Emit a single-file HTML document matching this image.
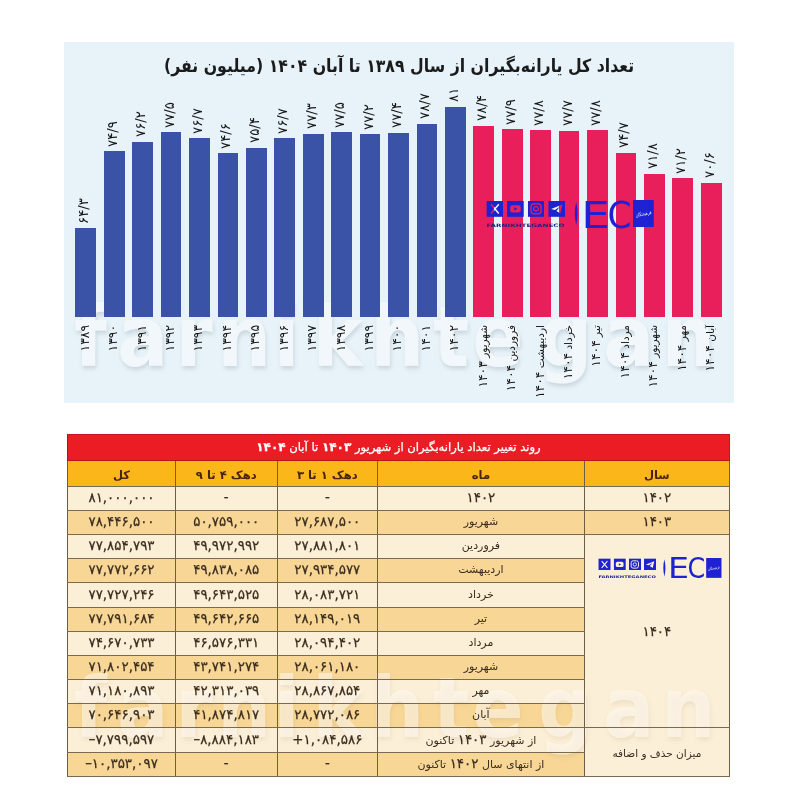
<!DOCTYPE html>
<html lang="fa"><head><meta charset="utf-8"><title>تعداد کل یارانه‌بگیران</title>
<style>
:root{--blue:#3A53A6;--red:#E91F5B;}
*{box-sizing:border-box;margin:0;padding:0}
html,body{width:800px;height:800px;background:#fff;overflow:hidden}
body{position:relative;font-family:"DejaVu Sans","Liberation Sans",sans-serif;color:#222}
.panel{position:absolute;left:64px;top:42px;width:670px;height:361px;background:#E7F3F9}
.title{position:absolute;left:64px;top:53px;width:670px;text-align:center;direction:rtl;font-weight:bold;font-size:15.75px;line-height:22px;color:#1b1b1b;white-space:nowrap;transform:translateY(2px) scaleY(1.15)}
.xl b{font-size:12.3px;font-weight:normal}
.bar{position:absolute;width:20.7px}
.vl{position:absolute;width:60px;height:14px;line-height:14px;font-family:"DejaVu Sans",sans-serif;font-size:13.3px;color:#161616;white-space:nowrap;transform-origin:0 0;transform:rotate(-90deg);text-align:left;direction:ltr}
.xl{position:absolute;width:90px;height:14px;line-height:14px;font-family:"DejaVu Sans",sans-serif;font-size:10.5px;color:#161616;white-space:nowrap;transform-origin:0 0;transform:rotate(-90deg);text-align:right;direction:rtl}
.cell{position:absolute;display:flex;align-items:center;justify-content:center;padding-bottom:2px;white-space:nowrap;direction:rtl;font-size:11px;color:#3a2c1e}
.cell b{font-weight:normal;font-size:13.4px;-webkit-text-stroke:0.25px #3a2c1e}
.num{direction:ltr;font-size:13.4px;-webkit-text-stroke:0.25px #3a2c1e}
.red i{font-style:normal;font-weight:bold;font-size:12px;letter-spacing:0.6px}
.red{background:#EC1C24;color:#fff;font-size:11.6px;-webkit-text-stroke:0.25px #fff;box-shadow:inset 0 1px 0 #c0161c, inset 1px 0 0 #a8161a, inset -1px 0 0 #c0161c, inset 0 -1px 0 #b8161c}
.hdr{background:#FBB61A;font-weight:bold;color:#4a2412;font-size:11.6px;padding-bottom:0;padding-top:1.5px}
.lt{background:#FCEFD7}
.tx.tx{background:transparent}
.dk{background:#F8D796}
.vline{position:absolute;width:1px;background:#6e5e45}
.hline{position:absolute;height:1px;background:#7a6a50}
.logo{position:absolute;overflow:visible}
.wm{position:absolute;pointer-events:none}
</style></head>
<body>
<div class="panel"></div>
<svg class="wm" style="left:0;top:0" width="800" height="420" viewBox="0 0 800 420">
<defs><filter id="wsh" x="-5%" y="-20%" width="110%" height="140%"><feGaussianBlur in="SourceAlpha" stdDeviation="2.2"/><feOffset dx="1.5" dy="2.5" result="b"/><feFlood flood-color="#8d98a3" flood-opacity="0.32"/><feComposite in2="b" operator="in"/><feMerge><feMergeNode/><feMergeNode in="SourceGraphic"/></feMerge></filter></defs>
<text x="82.3 130.2 194.9 241.5 303.8 347.1 411.5 481.2 524.6 598.0 670.2 734.9" y="366" transform="scale(0.9,1)" font-family="DejaVu Sans" font-weight="bold" font-size="84" fill="#f1f7fa" filter="url(#wsh)">farnikhtegan</text>
</svg>
<div class="title">تعداد کل یارانه‌بگیران از سال ۱۳۸۹ تا آبان ۱۴۰۴ (میلیون نفر)</div>
<div class="bar" style="left:75.40px;top:228.48px;height:88.52px;background:var(--blue)"></div>
<div class="vl" style="left:77.25px;top:223.98px">۶۴/۳</div>
<div class="xl" style="left:77.75px;top:415.00px"><b>۱۳۸۹</b></div>
<div class="bar" style="left:103.83px;top:151.20px;height:165.80px;background:var(--blue)"></div>
<div class="vl" style="left:105.68px;top:146.70px">۷۴/۹</div>
<div class="xl" style="left:106.18px;top:415.00px"><b>۱۳۹۰</b></div>
<div class="bar" style="left:132.26px;top:141.73px;height:175.27px;background:var(--blue)"></div>
<div class="vl" style="left:134.11px;top:137.23px">۷۶/۲</div>
<div class="xl" style="left:134.61px;top:415.00px"><b>۱۳۹۱</b></div>
<div class="bar" style="left:160.69px;top:132.25px;height:184.75px;background:var(--blue)"></div>
<div class="vl" style="left:162.54px;top:127.75px">۷۷/۵</div>
<div class="xl" style="left:163.04px;top:415.00px"><b>۱۳۹۲</b></div>
<div class="bar" style="left:189.12px;top:138.08px;height:178.92px;background:var(--blue)"></div>
<div class="vl" style="left:190.97px;top:133.58px">۷۶/۷</div>
<div class="xl" style="left:191.47px;top:415.00px"><b>۱۳۹۳</b></div>
<div class="bar" style="left:217.55px;top:153.39px;height:163.61px;background:var(--blue)"></div>
<div class="vl" style="left:219.40px;top:148.89px">۷۴/۶</div>
<div class="xl" style="left:219.90px;top:415.00px"><b>۱۳۹۴</b></div>
<div class="bar" style="left:245.98px;top:147.56px;height:169.44px;background:var(--blue)"></div>
<div class="vl" style="left:247.83px;top:143.06px">۷۵/۴</div>
<div class="xl" style="left:248.33px;top:415.00px"><b>۱۳۹۵</b></div>
<div class="bar" style="left:274.41px;top:138.08px;height:178.92px;background:var(--blue)"></div>
<div class="vl" style="left:276.26px;top:133.58px">۷۶/۷</div>
<div class="xl" style="left:276.76px;top:415.00px"><b>۱۳۹۶</b></div>
<div class="bar" style="left:302.84px;top:133.71px;height:183.29px;background:var(--blue)"></div>
<div class="vl" style="left:304.69px;top:129.21px">۷۷/۳</div>
<div class="xl" style="left:305.19px;top:415.00px"><b>۱۳۹۷</b></div>
<div class="bar" style="left:331.27px;top:132.25px;height:184.75px;background:var(--blue)"></div>
<div class="vl" style="left:333.12px;top:127.75px">۷۷/۵</div>
<div class="xl" style="left:333.62px;top:415.00px"><b>۱۳۹۸</b></div>
<div class="bar" style="left:359.70px;top:134.44px;height:182.56px;background:var(--blue)"></div>
<div class="vl" style="left:361.55px;top:129.94px">۷۷/۲</div>
<div class="xl" style="left:362.05px;top:415.00px"><b>۱۳۹۹</b></div>
<div class="bar" style="left:388.13px;top:132.98px;height:184.02px;background:var(--blue)"></div>
<div class="vl" style="left:389.98px;top:128.48px">۷۷/۴</div>
<div class="xl" style="left:390.48px;top:415.00px"><b>۱۴۰۰</b></div>
<div class="bar" style="left:416.56px;top:123.50px;height:193.50px;background:var(--blue)"></div>
<div class="vl" style="left:418.41px;top:119.00px">۷۸/۷</div>
<div class="xl" style="left:418.91px;top:415.00px"><b>۱۴۰۱</b></div>
<div class="bar" style="left:444.99px;top:106.73px;height:210.26px;background:var(--blue)"></div>
<div class="vl" style="left:446.84px;top:102.23px">۸۱</div>
<div class="xl" style="left:447.34px;top:415.00px"><b>۱۴۰۲</b></div>
<div class="bar" style="left:473.42px;top:125.69px;height:191.31px;background:var(--red)"></div>
<div class="vl" style="left:475.27px;top:121.19px">۷۸/۴</div>
<div class="xl" style="left:475.77px;top:415.00px">شهریور <b>۱۴۰۳</b></div>
<div class="bar" style="left:501.85px;top:129.33px;height:187.67px;background:var(--red)"></div>
<div class="vl" style="left:503.70px;top:124.83px">۷۷/۹</div>
<div class="xl" style="left:504.20px;top:415.00px">فروردین <b>۱۴۰۴</b></div>
<div class="bar" style="left:530.28px;top:130.06px;height:186.94px;background:var(--red)"></div>
<div class="vl" style="left:532.13px;top:125.56px">۷۷/۸</div>
<div class="xl" style="left:532.63px;top:415.00px">اردیبهشت <b>۱۴۰۴</b></div>
<div class="bar" style="left:558.71px;top:130.79px;height:186.21px;background:var(--red)"></div>
<div class="vl" style="left:560.56px;top:126.29px">۷۷/۷</div>
<div class="xl" style="left:561.06px;top:415.00px">خرداد <b>۱۴۰۴</b></div>
<div class="bar" style="left:587.14px;top:130.06px;height:186.94px;background:var(--red)"></div>
<div class="vl" style="left:588.99px;top:125.56px">۷۷/۸</div>
<div class="xl" style="left:589.49px;top:415.00px">تیر <b>۱۴۰۴</b></div>
<div class="bar" style="left:615.57px;top:152.66px;height:164.34px;background:var(--red)"></div>
<div class="vl" style="left:617.42px;top:148.16px">۷۴/۷</div>
<div class="xl" style="left:617.92px;top:415.00px">مرداد <b>۱۴۰۴</b></div>
<div class="bar" style="left:644.00px;top:173.80px;height:143.20px;background:var(--red)"></div>
<div class="vl" style="left:645.85px;top:169.30px">۷۱/۸</div>
<div class="xl" style="left:646.35px;top:415.00px">شهریور <b>۱۴۰۴</b></div>
<div class="bar" style="left:672.43px;top:178.18px;height:138.82px;background:var(--red)"></div>
<div class="vl" style="left:674.28px;top:173.68px">۷۱/۲</div>
<div class="xl" style="left:674.78px;top:415.00px">مهر <b>۱۴۰۴</b></div>
<div class="bar" style="left:700.86px;top:182.55px;height:134.45px;background:var(--red)"></div>
<div class="vl" style="left:702.71px;top:178.05px">۷۰/۶</div>
<div class="xl" style="left:703.21px;top:415.00px">آبان <b>۱۴۰۴</b></div>
<svg class="logo" style="left:486px;top:200px" width="169.00" height="28.50" viewBox="0 0 169 28.5">
<mask id="am0" maskUnits="userSpaceOnUse" x="0.4" y="0.6" width="16.85" height="16.3"><rect x="0.4" y="0.6" width="16.85" height="16.3" fill="#fff"/><g transform="translate(0.4,0.6)"><path d="M4.6 3.6 L12.4 12.8 M12.4 3.6 L4.6 12.8" stroke="#000" stroke-width="1.5" fill="none"/></g></mask><rect x="0.4" y="0.6" width="16.85" height="16.3" fill="#1E22D2" mask="url(#am0)"/><mask id="am1" maskUnits="userSpaceOnUse" x="21.0" y="0.6" width="16.85" height="16.3"><rect x="21.0" y="0.6" width="16.85" height="16.3" fill="#fff"/><g transform="translate(21.0,0.6)"><rect x="3.2" y="4.6" width="10.5" height="7.2" rx="2.2" fill="#000"/><path d="M7.3 6.4 L10.3 8.2 L7.3 10 Z" fill="#fff"/></g></mask><rect x="21.0" y="0.6" width="16.85" height="16.3" fill="#1E22D2" mask="url(#am1)"/><mask id="am2" maskUnits="userSpaceOnUse" x="41.6" y="0.6" width="16.85" height="16.3"><rect x="41.6" y="0.6" width="16.85" height="16.3" fill="#fff"/><g transform="translate(41.6,0.6)"><rect x="3.4" y="3.2" width="10" height="10" rx="2.8" fill="none" stroke="#000" stroke-width="1.3"/><circle cx="8.4" cy="8.2" r="2.3" fill="none" stroke="#000" stroke-width="1.2"/></g></mask><rect x="41.6" y="0.6" width="16.85" height="16.3" fill="#1E22D2" mask="url(#am2)"/><mask id="am3" maskUnits="userSpaceOnUse" x="62.25" y="0.6" width="16.85" height="16.3"><rect x="62.25" y="0.6" width="16.85" height="16.3" fill="#fff"/><g transform="translate(62.25,0.6)"><path d="M2.8 8.4 L14.2 3.8 L12 13 L8.2 10.4 L11.6 6.2 L6.6 9.4 Z" fill="#000"/></g></mask><rect x="62.25" y="0.6" width="16.85" height="16.3" fill="#1E22D2" mask="url(#am3)"/>
<text x="0.6" y="27.3" font-family="DejaVu Sans" font-weight="bold" font-size="4.6" fill="#1a1f80" textLength="78" lengthAdjust="spacingAndGlyphs">FARNIKHTEGANECO</text>
<path d="M90.2 1.8 Q93 13.5 90.2 25.5 Q87.4 13.5 90.2 1.8Z" fill="#1E22D2"/>
<text y="27.6" font-family="DejaVu Sans" font-size="37.9" fill="#1E22D2"><tspan x="95.3" textLength="28.6" lengthAdjust="spacingAndGlyphs">E</tspan><tspan x="121.5" textLength="24.1" lengthAdjust="spacingAndGlyphs">C</tspan></text>
<rect x="147" y="0" width="20.8" height="27" fill="#1E22D2"/>
<text x="149.5" y="15.5" font-family="DejaVu Sans" font-size="5" fill="#fff" opacity="0.9" textLength="16" lengthAdjust="spacingAndGlyphs" transform="rotate(-12 157.4 14)">فرهیختگان</text>
</svg>
<div class="cell red" style="left:67.0px;top:434.2px;width:663.0px;height:27.19999999999999px"></div>
<div class="cell hdr" style="left:67.5px;top:461.4px;width:108.0px;height:24.900000000000034px"></div>
<div class="cell hdr" style="left:175.5px;top:461.4px;width:101.5px;height:24.900000000000034px"></div>
<div class="cell hdr" style="left:277px;top:461.4px;width:100.60000000000002px;height:24.900000000000034px"></div>
<div class="cell hdr" style="left:377.6px;top:461.4px;width:206.60000000000002px;height:24.900000000000034px"></div>
<div class="cell hdr" style="left:584.2px;top:461.4px;width:145.29999999999995px;height:24.900000000000034px"></div>
<div class="cell lt num" style="left:67.5px;top:486.30px;width:108.0px;height:24.17px"></div>
<div class="cell lt num" style="left:175.5px;top:486.30px;width:101.5px;height:24.17px"></div>
<div class="cell lt num" style="left:277px;top:486.30px;width:100.60000000000002px;height:24.17px"></div>
<div class="cell lt" style="left:377.6px;top:486.30px;width:206.60000000000002px;height:24.17px"></div>
<div class="cell dk num" style="left:67.5px;top:510.47px;width:108.0px;height:24.17px"></div>
<div class="cell dk num" style="left:175.5px;top:510.47px;width:101.5px;height:24.17px"></div>
<div class="cell dk num" style="left:277px;top:510.47px;width:100.60000000000002px;height:24.17px"></div>
<div class="cell dk" style="left:377.6px;top:510.47px;width:206.60000000000002px;height:24.17px"></div>
<div class="cell lt num" style="left:67.5px;top:534.63px;width:108.0px;height:24.17px"></div>
<div class="cell lt num" style="left:175.5px;top:534.63px;width:101.5px;height:24.17px"></div>
<div class="cell lt num" style="left:277px;top:534.63px;width:100.60000000000002px;height:24.17px"></div>
<div class="cell lt" style="left:377.6px;top:534.63px;width:206.60000000000002px;height:24.17px"></div>
<div class="cell dk num" style="left:67.5px;top:558.80px;width:108.0px;height:24.17px"></div>
<div class="cell dk num" style="left:175.5px;top:558.80px;width:101.5px;height:24.17px"></div>
<div class="cell dk num" style="left:277px;top:558.80px;width:100.60000000000002px;height:24.17px"></div>
<div class="cell dk" style="left:377.6px;top:558.80px;width:206.60000000000002px;height:24.17px"></div>
<div class="cell lt num" style="left:67.5px;top:582.97px;width:108.0px;height:24.17px"></div>
<div class="cell lt num" style="left:175.5px;top:582.97px;width:101.5px;height:24.17px"></div>
<div class="cell lt num" style="left:277px;top:582.97px;width:100.60000000000002px;height:24.17px"></div>
<div class="cell lt" style="left:377.6px;top:582.97px;width:206.60000000000002px;height:24.17px"></div>
<div class="cell dk num" style="left:67.5px;top:607.13px;width:108.0px;height:24.17px"></div>
<div class="cell dk num" style="left:175.5px;top:607.13px;width:101.5px;height:24.17px"></div>
<div class="cell dk num" style="left:277px;top:607.13px;width:100.60000000000002px;height:24.17px"></div>
<div class="cell dk" style="left:377.6px;top:607.13px;width:206.60000000000002px;height:24.17px"></div>
<div class="cell lt num" style="left:67.5px;top:631.30px;width:108.0px;height:24.17px"></div>
<div class="cell lt num" style="left:175.5px;top:631.30px;width:101.5px;height:24.17px"></div>
<div class="cell lt num" style="left:277px;top:631.30px;width:100.60000000000002px;height:24.17px"></div>
<div class="cell lt" style="left:377.6px;top:631.30px;width:206.60000000000002px;height:24.17px"></div>
<div class="cell dk num" style="left:67.5px;top:655.47px;width:108.0px;height:24.17px"></div>
<div class="cell dk num" style="left:175.5px;top:655.47px;width:101.5px;height:24.17px"></div>
<div class="cell dk num" style="left:277px;top:655.47px;width:100.60000000000002px;height:24.17px"></div>
<div class="cell dk" style="left:377.6px;top:655.47px;width:206.60000000000002px;height:24.17px"></div>
<div class="cell lt num" style="left:67.5px;top:679.63px;width:108.0px;height:24.17px"></div>
<div class="cell lt num" style="left:175.5px;top:679.63px;width:101.5px;height:24.17px"></div>
<div class="cell lt num" style="left:277px;top:679.63px;width:100.60000000000002px;height:24.17px"></div>
<div class="cell lt" style="left:377.6px;top:679.63px;width:206.60000000000002px;height:24.17px"></div>
<div class="cell dk num" style="left:67.5px;top:703.80px;width:108.0px;height:24.17px"></div>
<div class="cell dk num" style="left:175.5px;top:703.80px;width:101.5px;height:24.17px"></div>
<div class="cell dk num" style="left:277px;top:703.80px;width:100.60000000000002px;height:24.17px"></div>
<div class="cell dk" style="left:377.6px;top:703.80px;width:206.60000000000002px;height:24.17px"></div>
<div class="cell lt num" style="left:67.5px;top:727.97px;width:108.0px;height:24.17px"></div>
<div class="cell lt num" style="left:175.5px;top:727.97px;width:101.5px;height:24.17px"></div>
<div class="cell lt num" style="left:277px;top:727.97px;width:100.60000000000002px;height:24.17px"></div>
<div class="cell lt" style="left:377.6px;top:727.97px;width:206.60000000000002px;height:24.17px"></div>
<div class="cell dk num" style="left:67.5px;top:752.13px;width:108.0px;height:24.17px"></div>
<div class="cell dk num" style="left:175.5px;top:752.13px;width:101.5px;height:24.17px"></div>
<div class="cell dk num" style="left:277px;top:752.13px;width:100.60000000000002px;height:24.17px"></div>
<div class="cell dk" style="left:377.6px;top:752.13px;width:206.60000000000002px;height:24.17px"></div>
<div class="cell lt" style="left:584.2px;top:486.30px;width:145.29999999999995px;height:24.17px"></div>
<div class="cell dk" style="left:584.2px;top:510.47px;width:145.29999999999995px;height:24.17px"></div>
<div class="cell lt" style="left:584.2px;top:534.63px;width:145.29999999999995px;height:193.33px"></div>
<div class="cell lt" style="left:584.2px;top:727.97px;width:145.29999999999995px;height:48.33px"></div>
<svg class="wm" style="left:0;top:420px" width="800" height="380" viewBox="0 420 800 380">
<defs><filter id="wsh2" x="-5%" y="-20%" width="110%" height="140%"><feGaussianBlur in="SourceAlpha" stdDeviation="2.2"/><feOffset dx="1.5" dy="2.5" result="b"/><feFlood flood-color="#8a7550" flood-opacity="0.22"/><feComposite in2="b" operator="in"/><feMerge><feMergeNode/><feMergeNode in="SourceGraphic"/></feMerge></filter></defs>
<text x="82.3 130.2 194.9 241.5 303.8 347.1 411.5 481.2 524.6 598.0 670.2 734.9" y="737" transform="scale(0.9,1)" font-family="DejaVu Sans" font-weight="bold" font-size="84" fill="#fffaf0" fill-opacity="0.55" filter="url(#wsh2)">farnikhtegan</text>
</svg>
<div class="vline" style="left:67.0px;top:461.4px;height:315.40px"></div>
<div class="vline" style="left:175.0px;top:461.4px;height:315.40px"></div>
<div class="vline" style="left:276.5px;top:461.4px;height:315.40px"></div>
<div class="vline" style="left:377.1px;top:461.4px;height:315.40px"></div>
<div class="vline" style="left:583.7px;top:461.4px;height:315.40px"></div>
<div class="vline" style="left:729.0px;top:461.4px;height:315.40px"></div>
<div class="hline" style="left:67.0px;top:485.80px;width:663.0px"></div>
<div class="hline" style="left:67.0px;top:509.97px;width:663.0px"></div>
<div class="hline" style="left:67.0px;top:534.13px;width:663.0px"></div>
<div class="hline" style="left:67.0px;top:558.30px;width:517.70px"></div>
<div class="hline" style="left:67.0px;top:582.47px;width:517.70px"></div>
<div class="hline" style="left:67.0px;top:606.63px;width:517.70px"></div>
<div class="hline" style="left:67.0px;top:630.80px;width:517.70px"></div>
<div class="hline" style="left:67.0px;top:654.97px;width:517.70px"></div>
<div class="hline" style="left:67.0px;top:679.13px;width:517.70px"></div>
<div class="hline" style="left:67.0px;top:703.30px;width:517.70px"></div>
<div class="hline" style="left:67.0px;top:727.47px;width:663.0px"></div>
<div class="hline" style="left:67.0px;top:751.63px;width:517.70px"></div>
<div class="hline" style="left:67.0px;top:775.80px;width:663.0px"></div>
<div class="cell tx red" style="left:67.0px;top:434.2px;width:663.0px;height:27.19999999999999px"><span>روند تغییر تعداد یارانه‌بگیران از شهریور <i>۱۴۰۳</i> تا آبان <i>۱۴۰۴</i></span></div>
<div class="cell tx hdr" style="left:67.5px;top:461.4px;width:108.0px;height:24.900000000000034px">کل</div>
<div class="cell tx hdr" style="left:175.5px;top:461.4px;width:101.5px;height:24.900000000000034px">دهک ۴ تا ۹</div>
<div class="cell tx hdr" style="left:277px;top:461.4px;width:100.60000000000002px;height:24.900000000000034px">دهک ۱ تا ۳</div>
<div class="cell tx hdr" style="left:377.6px;top:461.4px;width:206.60000000000002px;height:24.900000000000034px">ماه</div>
<div class="cell tx hdr" style="left:584.2px;top:461.4px;width:145.29999999999995px;height:24.900000000000034px">سال</div>
<div class="cell tx lt num" style="left:67.5px;top:486.30px;width:108.0px;height:24.17px"><span>۸۱,۰۰۰,۰۰۰</span></div>
<div class="cell tx lt num" style="left:175.5px;top:486.30px;width:101.5px;height:24.17px"><span>-</span></div>
<div class="cell tx lt num" style="left:277px;top:486.30px;width:100.60000000000002px;height:24.17px"><span>-</span></div>
<div class="cell tx lt" style="left:377.6px;top:486.30px;width:206.60000000000002px;height:24.17px"><span><b>۱۴۰۲</b></span></div>
<div class="cell tx dk num" style="left:67.5px;top:510.47px;width:108.0px;height:24.17px"><span>۷۸,۴۴۶,۵۰۰</span></div>
<div class="cell tx dk num" style="left:175.5px;top:510.47px;width:101.5px;height:24.17px"><span>۵۰,۷۵۹,۰۰۰</span></div>
<div class="cell tx dk num" style="left:277px;top:510.47px;width:100.60000000000002px;height:24.17px"><span>۲۷,۶۸۷,۵۰۰</span></div>
<div class="cell tx dk" style="left:377.6px;top:510.47px;width:206.60000000000002px;height:24.17px"><span>شهریور</span></div>
<div class="cell tx lt num" style="left:67.5px;top:534.63px;width:108.0px;height:24.17px"><span>۷۷,۸۵۴,۷۹۳</span></div>
<div class="cell tx lt num" style="left:175.5px;top:534.63px;width:101.5px;height:24.17px"><span>۴۹,۹۷۲,۹۹۲</span></div>
<div class="cell tx lt num" style="left:277px;top:534.63px;width:100.60000000000002px;height:24.17px"><span>۲۷,۸۸۱,۸۰۱</span></div>
<div class="cell tx lt" style="left:377.6px;top:534.63px;width:206.60000000000002px;height:24.17px"><span>فروردین</span></div>
<div class="cell tx dk num" style="left:67.5px;top:558.80px;width:108.0px;height:24.17px"><span>۷۷,۷۷۲,۶۶۲</span></div>
<div class="cell tx dk num" style="left:175.5px;top:558.80px;width:101.5px;height:24.17px"><span>۴۹,۸۳۸,۰۸۵</span></div>
<div class="cell tx dk num" style="left:277px;top:558.80px;width:100.60000000000002px;height:24.17px"><span>۲۷,۹۳۴,۵۷۷</span></div>
<div class="cell tx dk" style="left:377.6px;top:558.80px;width:206.60000000000002px;height:24.17px"><span>اردیبهشت</span></div>
<div class="cell tx lt num" style="left:67.5px;top:582.97px;width:108.0px;height:24.17px"><span>۷۷,۷۲۷,۲۴۶</span></div>
<div class="cell tx lt num" style="left:175.5px;top:582.97px;width:101.5px;height:24.17px"><span>۴۹,۶۴۳,۵۲۵</span></div>
<div class="cell tx lt num" style="left:277px;top:582.97px;width:100.60000000000002px;height:24.17px"><span>۲۸,۰۸۳,۷۲۱</span></div>
<div class="cell tx lt" style="left:377.6px;top:582.97px;width:206.60000000000002px;height:24.17px"><span>خرداد</span></div>
<div class="cell tx dk num" style="left:67.5px;top:607.13px;width:108.0px;height:24.17px"><span>۷۷,۷۹۱,۶۸۴</span></div>
<div class="cell tx dk num" style="left:175.5px;top:607.13px;width:101.5px;height:24.17px"><span>۴۹,۶۴۲,۶۶۵</span></div>
<div class="cell tx dk num" style="left:277px;top:607.13px;width:100.60000000000002px;height:24.17px"><span>۲۸,۱۴۹,۰۱۹</span></div>
<div class="cell tx dk" style="left:377.6px;top:607.13px;width:206.60000000000002px;height:24.17px"><span>تیر</span></div>
<div class="cell tx lt num" style="left:67.5px;top:631.30px;width:108.0px;height:24.17px"><span>۷۴,۶۷۰,۷۳۳</span></div>
<div class="cell tx lt num" style="left:175.5px;top:631.30px;width:101.5px;height:24.17px"><span>۴۶,۵۷۶,۳۳۱</span></div>
<div class="cell tx lt num" style="left:277px;top:631.30px;width:100.60000000000002px;height:24.17px"><span>۲۸,۰۹۴,۴۰۲</span></div>
<div class="cell tx lt" style="left:377.6px;top:631.30px;width:206.60000000000002px;height:24.17px"><span>مرداد</span></div>
<div class="cell tx dk num" style="left:67.5px;top:655.47px;width:108.0px;height:24.17px"><span>۷۱,۸۰۲,۴۵۴</span></div>
<div class="cell tx dk num" style="left:175.5px;top:655.47px;width:101.5px;height:24.17px"><span>۴۳,۷۴۱,۲۷۴</span></div>
<div class="cell tx dk num" style="left:277px;top:655.47px;width:100.60000000000002px;height:24.17px"><span>۲۸,۰۶۱,۱۸۰</span></div>
<div class="cell tx dk" style="left:377.6px;top:655.47px;width:206.60000000000002px;height:24.17px"><span>شهریور</span></div>
<div class="cell tx lt num" style="left:67.5px;top:679.63px;width:108.0px;height:24.17px"><span>۷۱,۱۸۰,۸۹۳</span></div>
<div class="cell tx lt num" style="left:175.5px;top:679.63px;width:101.5px;height:24.17px"><span>۴۲,۳۱۳,۰۳۹</span></div>
<div class="cell tx lt num" style="left:277px;top:679.63px;width:100.60000000000002px;height:24.17px"><span>۲۸,۸۶۷,۸۵۴</span></div>
<div class="cell tx lt" style="left:377.6px;top:679.63px;width:206.60000000000002px;height:24.17px"><span>مهر</span></div>
<div class="cell tx dk num" style="left:67.5px;top:703.80px;width:108.0px;height:24.17px"><span>۷۰,۶۴۶,۹۰۳</span></div>
<div class="cell tx dk num" style="left:175.5px;top:703.80px;width:101.5px;height:24.17px"><span>۴۱,۸۷۴,۸۱۷</span></div>
<div class="cell tx dk num" style="left:277px;top:703.80px;width:100.60000000000002px;height:24.17px"><span>۲۸,۷۷۲,۰۸۶</span></div>
<div class="cell tx dk" style="left:377.6px;top:703.80px;width:206.60000000000002px;height:24.17px"><span>آبان</span></div>
<div class="cell tx lt num" style="left:67.5px;top:727.97px;width:108.0px;height:24.17px"><span>–۷,۷۹۹,۵۹۷</span></div>
<div class="cell tx lt num" style="left:175.5px;top:727.97px;width:101.5px;height:24.17px"><span>–۸,۸۸۴,۱۸۳</span></div>
<div class="cell tx lt num" style="left:277px;top:727.97px;width:100.60000000000002px;height:24.17px"><span>+۱,۰۸۴,۵۸۶</span></div>
<div class="cell tx lt" style="left:377.6px;top:727.97px;width:206.60000000000002px;height:24.17px"><span>از شهریور <b>۱۴۰۳</b> تاکنون</span></div>
<div class="cell tx dk num" style="left:67.5px;top:752.13px;width:108.0px;height:24.17px"><span>–۱۰,۳۵۳,۰۹۷</span></div>
<div class="cell tx dk num" style="left:175.5px;top:752.13px;width:101.5px;height:24.17px"><span>-</span></div>
<div class="cell tx dk num" style="left:277px;top:752.13px;width:100.60000000000002px;height:24.17px"><span>-</span></div>
<div class="cell tx dk" style="left:377.6px;top:752.13px;width:206.60000000000002px;height:24.17px"><span>از انتهای سال <b>۱۴۰۲</b> تاکنون</span></div>
<div class="cell tx lt" style="left:584.2px;top:486.30px;width:145.29999999999995px;height:24.17px"><b>۱۴۰۲</b></div>
<div class="cell tx dk" style="left:584.2px;top:510.47px;width:145.29999999999995px;height:24.17px"><b>۱۴۰۳</b></div>
<div class="cell tx lt" style="left:584.2px;top:534.63px;width:145.29999999999995px;height:193.33px"><b style="position:relative;top:1.5px">۱۴۰۴</b></div>
<div class="cell tx lt" style="left:584.2px;top:727.97px;width:145.29999999999995px;height:48.33px"><span style="font-size:10.5px;position:relative;top:1.5px">میزان حذف و اضافه</span></div>
<svg class="logo" style="left:598.3px;top:558.2px" width="124.38" height="20.98" viewBox="0 0 169 28.5">
<mask id="bm0" maskUnits="userSpaceOnUse" x="0.4" y="0.6" width="16.85" height="16.3"><rect x="0.4" y="0.6" width="16.85" height="16.3" fill="#fff"/><g transform="translate(0.4,0.6)"><path d="M4.6 3.6 L12.4 12.8 M12.4 3.6 L4.6 12.8" stroke="#000" stroke-width="1.5" fill="none"/></g></mask><rect x="0.4" y="0.6" width="16.85" height="16.3" fill="#1E22D2" mask="url(#bm0)"/><mask id="bm1" maskUnits="userSpaceOnUse" x="21.0" y="0.6" width="16.85" height="16.3"><rect x="21.0" y="0.6" width="16.85" height="16.3" fill="#fff"/><g transform="translate(21.0,0.6)"><rect x="3.2" y="4.6" width="10.5" height="7.2" rx="2.2" fill="#000"/><path d="M7.3 6.4 L10.3 8.2 L7.3 10 Z" fill="#fff"/></g></mask><rect x="21.0" y="0.6" width="16.85" height="16.3" fill="#1E22D2" mask="url(#bm1)"/><mask id="bm2" maskUnits="userSpaceOnUse" x="41.6" y="0.6" width="16.85" height="16.3"><rect x="41.6" y="0.6" width="16.85" height="16.3" fill="#fff"/><g transform="translate(41.6,0.6)"><rect x="3.4" y="3.2" width="10" height="10" rx="2.8" fill="none" stroke="#000" stroke-width="1.3"/><circle cx="8.4" cy="8.2" r="2.3" fill="none" stroke="#000" stroke-width="1.2"/></g></mask><rect x="41.6" y="0.6" width="16.85" height="16.3" fill="#1E22D2" mask="url(#bm2)"/><mask id="bm3" maskUnits="userSpaceOnUse" x="62.25" y="0.6" width="16.85" height="16.3"><rect x="62.25" y="0.6" width="16.85" height="16.3" fill="#fff"/><g transform="translate(62.25,0.6)"><path d="M2.8 8.4 L14.2 3.8 L12 13 L8.2 10.4 L11.6 6.2 L6.6 9.4 Z" fill="#000"/></g></mask><rect x="62.25" y="0.6" width="16.85" height="16.3" fill="#1E22D2" mask="url(#bm3)"/>
<text x="0.6" y="27.3" font-family="DejaVu Sans" font-weight="bold" font-size="4.6" fill="#1a1f80" textLength="78" lengthAdjust="spacingAndGlyphs">FARNIKHTEGANECO</text>
<path d="M90.2 1.8 Q93 13.5 90.2 25.5 Q87.4 13.5 90.2 1.8Z" fill="#1E22D2"/>
<text y="27.6" font-family="DejaVu Sans" font-size="37.9" fill="#1E22D2"><tspan x="95.3" textLength="28.6" lengthAdjust="spacingAndGlyphs">E</tspan><tspan x="121.5" textLength="24.1" lengthAdjust="spacingAndGlyphs">C</tspan></text>
<rect x="147" y="0" width="20.8" height="27" fill="#1E22D2"/>
<text x="149.5" y="15.5" font-family="DejaVu Sans" font-size="5" fill="#fff" opacity="0.9" textLength="16" lengthAdjust="spacingAndGlyphs" transform="rotate(-12 157.4 14)">فرهیختگان</text>
</svg>
</body></html>
